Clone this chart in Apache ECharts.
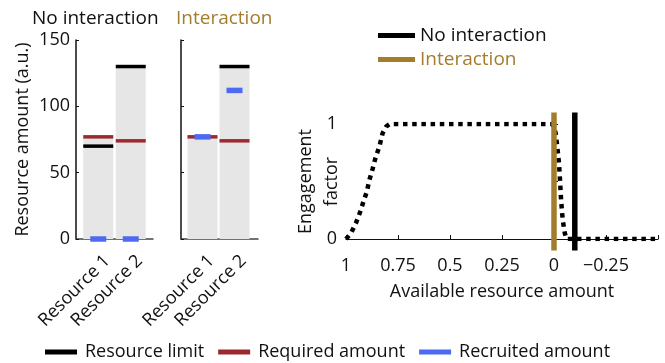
<!DOCTYPE html>
<html>
<head>
<meta charset="utf-8">
<script src="https://cdn.jsdelivr.net/npm/echarts@6/dist/echarts.min.js"></script>
<style>
  html, body { margin: 0; padding: 0; background: #fff; }
  #chart { width: 665px; height: 363px; }
</style>
</head>
<body>
<div id="chart"></div>
<script>
// Resource panels (arbitrary units)
const categories = ['Resource 1', 'Resource 2'];
const noIntCapacity = [77, 130];
const noIntLimit = [70, 130];
const noIntRequired = [77, 74];
const noIntRecruited = [0, 0];
const intCapacity = [78, 130];
const intLimit = [null, 130];
const intRequired = [77, 74];
const intRecruited = [77, 112];

// Engagement factor versus available resource amount
const availableAmount = [1.0, 0.976, 0.952, 0.933, 0.917, 0.9, 0.888, 0.872, 0.856, 0.84, 0.824, 0.806, 0.79,
  0.5, 0.25, 0.01, 0.002, -0.008, -0.014, -0.019, -0.024, -0.029, -0.034, -0.042, -0.052, -0.06, -0.25, -0.5];
const engagement = [0, 0.05, 0.14, 0.23, 0.32, 0.41, 0.51, 0.61, 0.72, 0.8, 0.92, 0.98, 1,
  1, 1, 1, 0.98, 0.92, 0.83, 0.745, 0.66, 0.51, 0.34, 0.165, 0.05, 0, 0, 0];
const thresholdNoInteraction = -0.1;
const thresholdInteraction = 0;
const thresholdSpan = [-0.1, 1.1];

const FONT = 'Open Sans';
const GOLD = '#A47D2C';
const RED = '#9B2A2E';
const BLUE = '#4D6BF2';
const GRAY = '#E6E6E6';

const chart = echarts.init(document.getElementById('chart'), null, { renderer: 'canvas' });

function frameX(gridIndex) {
  return {
    gridIndex, type: 'value', min: 0, max: 1,
    axisLine: { show: true, lineStyle: { color: '#444', width: 1.5 } },
    axisTick: { show: false }, axisLabel: { show: false }, splitLine: { show: false }
  };
}
// category axis carrying the bars (no labels)
function barX(gridIndex) {
  return {
    gridIndex, type: 'category', data: categories,
    axisLine: { show: false }, axisTick: { show: false }, axisLabel: { show: false }
  };
}
// category axis carrying the rotated labels
function labelX(gridIndex) {
  return {
    gridIndex, type: 'category', data: categories,
    axisLine: { show: false }, axisTick: { show: false },
    axisLabel: { rotate: 45, fontSize: 18, fontFamily: FONT, color: '#111', margin: 19, interval: 0 }
  };
}
function hiddenY(gridIndex) {
  return { gridIndex, type: 'value', min: 0, max: 150, show: false };
}
function panelSeries(xi, yi, capacity, limit, required, recruited) {
  return [
    { type: 'bar', xAxisIndex: xi, yAxisIndex: yi, data: capacity, barWidth: 30,
      itemStyle: { color: GRAY }, silent: true },
    { type: 'scatter', name: 'Resource limit', xAxisIndex: xi, yAxisIndex: yi, data: limit,
      symbol: 'rect', symbolSize: [30, 3.5], itemStyle: { color: '#000', opacity: 1 }, silent: true },
    { type: 'scatter', name: 'Required amount', xAxisIndex: xi, yAxisIndex: yi, data: required,
      symbol: 'rect', symbolSize: [30, 3.5], itemStyle: { color: RED, opacity: 1 }, silent: true },
    { type: 'scatter', name: 'Recruited amount', xAxisIndex: xi, yAxisIndex: yi, data: recruited,
      symbol: 'rect', symbolSize: [16, 5.5], itemStyle: { color: BLUE, opacity: 1 }, silent: true }
  ];
}

const option = {
  animation: false,
  textStyle: { fontFamily: FONT },
  title: [
    { text: 'No interaction', left: 27, top: 4, textStyle: { fontSize: 19, fontWeight: 'normal', color: '#111', fontFamily: FONT } },
    { text: 'Interaction', left: 171, top: 4, textStyle: { fontSize: 19, fontWeight: 'normal', color: GOLD, fontFamily: FONT } }
  ],
  grid: [
    { left: 76, top: 40, width: 77, height: 199 },
    { left: 82, top: 40, width: 65, height: 199 },
    { left: 181, top: 40, width: 77, height: 199 },
    { left: 186.5, top: 40, width: 64, height: 199 },
    { left: 346, top: 124, width: 312, height: 115 },
    { left: 91, top: 40, width: 65, height: 199 },
    { left: 195.5, top: 40, width: 64, height: 199 }
  ],
  xAxis: [
    frameX(0), barX(1), frameX(2), barX(3),
    {
      gridIndex: 4, type: 'value', min: -0.5, max: 1, interval: 0.25, inverse: true,
      name: 'Available resource amount', nameLocation: 'middle', nameGap: 44, nameMoveOverlap: false,
      nameTextStyle: { fontSize: 18, fontFamily: FONT, color: '#111' },
      axisLine: { show: true, lineStyle: { color: '#111', width: 1.2 } },
      axisTick: { show: true, inside: true, length: 4, lineStyle: { color: '#111' } },
      axisLabel: {
        fontSize: 18, fontFamily: FONT, color: '#111', margin: 18,
        formatter: v => (v <= -0.5 ? '' : (v < 0 ? '\u2212' + String(-v) : String(v)))
      },
      splitLine: { show: false }
    },
    labelX(5), labelX(6)
  ],
  yAxis: [
    {
      gridIndex: 0, type: 'value', min: 0, max: 150, interval: 50,
      name: 'Resource amount (a.u.)', nameLocation: 'middle', nameGap: 44, nameRotate: 90, nameMoveOverlap: false,
      nameTextStyle: { fontSize: 18, fontFamily: FONT, color: '#111' },
      axisLine: { show: true, lineStyle: { color: '#111', width: 1.5 } },
      axisTick: { show: true, inside: true, length: 3, lineStyle: { color: '#111' } },
      axisLabel: { fontSize: 18, fontFamily: FONT, color: '#111', margin: 6 },
      splitLine: { show: false }
    },
    hiddenY(1),
    {
      gridIndex: 2, type: 'value', min: 0, max: 150, interval: 50,
      axisLine: { show: true, lineStyle: { color: '#111', width: 1.5 } },
      axisTick: { show: true, inside: true, length: 3, lineStyle: { color: '#111' } },
      axisLabel: { show: false }, splitLine: { show: false }
    },
    hiddenY(3),
    {
      gridIndex: 4, type: 'value', min: 0, max: 1, interval: 0.5,
      name: 'Engagement\nfactor', nameLocation: 'middle', nameGap: 1, nameRotate: 90, nameMoveOverlap: false,
      nameTextStyle: { fontSize: 18, fontFamily: FONT, color: '#111', lineHeight: 26 },
      axisLine: { show: true, lineStyle: { color: '#111', width: 1.2 } },
      axisTick: { show: true, inside: true, length: 4, lineStyle: { color: '#111' } },
      axisLabel: { fontSize: 18, fontFamily: FONT, color: '#111', margin: 9,
        formatter: v => (v === 0.5 ? '' : String(v)) },
      splitLine: { show: false }
    },
    hiddenY(5), hiddenY(6)
  ],
  legend: [
    {
      data: ['No interaction', { name: 'Interaction', textStyle: { color: GOLD } }],
      orient: 'vertical', left: 373, top: 20, icon: 'rect', itemWidth: 37, itemHeight: 5, itemGap: 3,
      selectedMode: false,
      textStyle: { fontSize: 19, fontFamily: FONT, color: '#111', lineHeight: 21 }
    },
    {
      data: ['Resource limit', 'Required amount', 'Recruited amount'],
      orient: 'horizontal', left: 40, top: 338, icon: 'rect', itemWidth: 32, itemHeight: 5, itemGap: 14,
      selectedMode: false,
      textStyle: { fontSize: 18, fontFamily: FONT, color: '#111', padding: [0, 0, 0, 3] }
    }
  ],
  series: [
    ...panelSeries(1, 1, noIntCapacity, noIntLimit, noIntRequired, noIntRecruited),
    ...panelSeries(3, 3, intCapacity, intLimit, intRequired, intRecruited),
    {
      type: 'line', xAxisIndex: 4, yAxisIndex: 4,
      data: availableAmount.map((x, i) => [x, engagement[i]]),
      symbol: 'none', silent: true,
      lineStyle: { color: '#000', width: 4.5, type: [4.5, 4.7], cap: 'butt' }
    },
    {
      type: 'line', name: 'Interaction', xAxisIndex: 4, yAxisIndex: 4, clip: false,
      data: thresholdSpan.map(y => [thresholdInteraction, y]),
      symbol: 'none', silent: true,
      itemStyle: { color: GOLD }, lineStyle: { color: GOLD, width: 5.5 }
    },
    {
      type: 'line', name: 'No interaction', xAxisIndex: 4, yAxisIndex: 4, clip: false,
      data: thresholdSpan.map(y => [thresholdNoInteraction, y]),
      symbol: 'none', silent: true,
      itemStyle: { color: '#000' }, lineStyle: { color: '#000', width: 5.5 }
    }
  ]
};

chart.setOption(option);
</script>
</body>
</html>
